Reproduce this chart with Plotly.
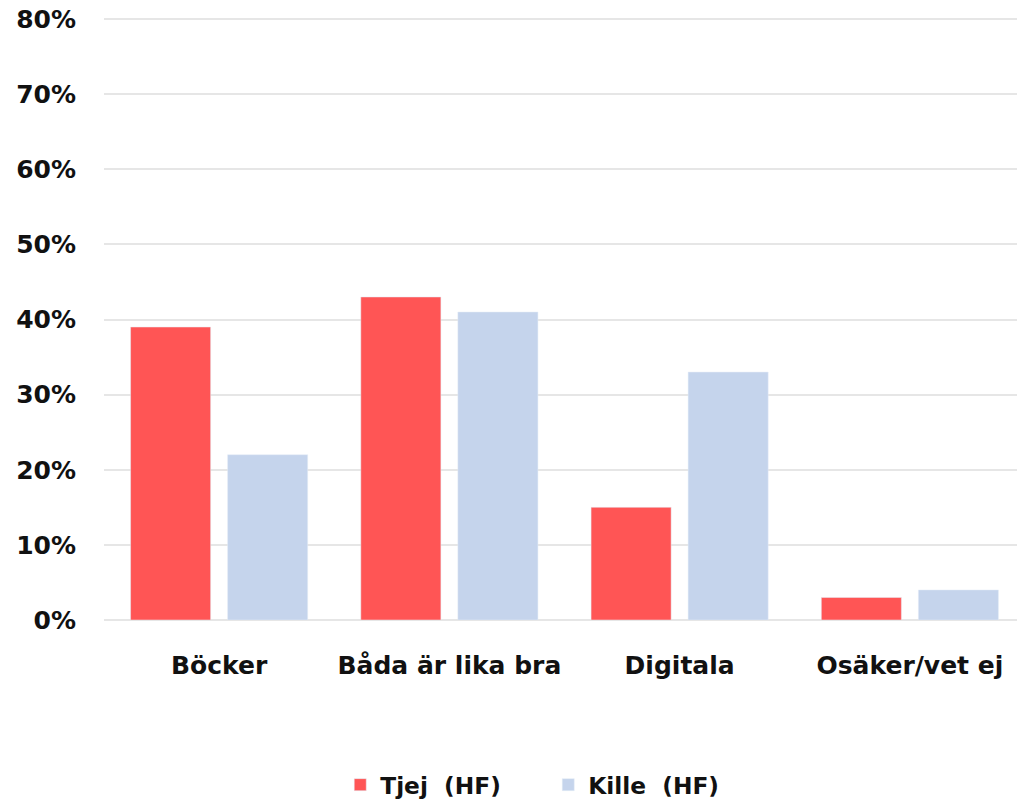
import plotly.graph_objects as go

categories = ["Böcker", "Båda är lika bra", "Digitala", "Osäker/vet ej"]
tjej = [39, 43, 15, 3]
kille = [22, 41, 33, 4]
tick_vals = [0, 10, 20, 30, 40, 50, 60, 70, 80]
tick_text = ["0%", "10%", "20%", "30%", "40%", "50%", "60%", "70%", "80%"]

FONT = "DejaVu Sans, Inter, sans-serif"
TXT = "#111111"

fig = go.Figure()
fig.add_trace(go.Bar(name="Tjej  (HF)", x=categories, y=tjej, marker_color="#FF5555"))
fig.add_trace(go.Bar(name="Kille  (HF)", x=categories, y=kille, marker_color="#C5D4EC"))

fig.update_layout(
    width=1025, height=801,
    margin=dict(l=96, r=8, t=9, b=189, autoexpand=False),
    paper_bgcolor="white", plot_bgcolor="white",
    barmode="group", bargap=0.157, bargroupgap=0.175,
    font=dict(family=FONT, size=24, color=TXT),
    showlegend=True,
    legend=dict(orientation="h", x=0.2565, xanchor="left", y=-0.2736, yanchor="middle",
                font=dict(family=FONT, size=23.3, color=TXT, weight="bold"),
                itemwidth=30, entrywidth=163, entrywidthmode="pixels",
                traceorder="normal"),
    xaxis=dict(showgrid=False, showline=False, ticks="", ticklabelstandoff=28,
               automargin=False,
               tickfont=dict(family=FONT, size=25, weight="bold", color=TXT)),
    yaxis=dict(range=[0, 80.27], tickvals=tick_vals, ticktext=tick_text,
               showgrid=True, gridcolor="#E6E6E6", gridwidth=2,
               zeroline=True, zerolinecolor="#E6E6E6", zerolinewidth=2,
               ticks="", ticklabelstandoff=27, automargin=False,
               ticklabeloverflow="allow",
               tickfont=dict(family=FONT, size=25, weight="bold", color=TXT)),
)

fig.write_html("out.html")
